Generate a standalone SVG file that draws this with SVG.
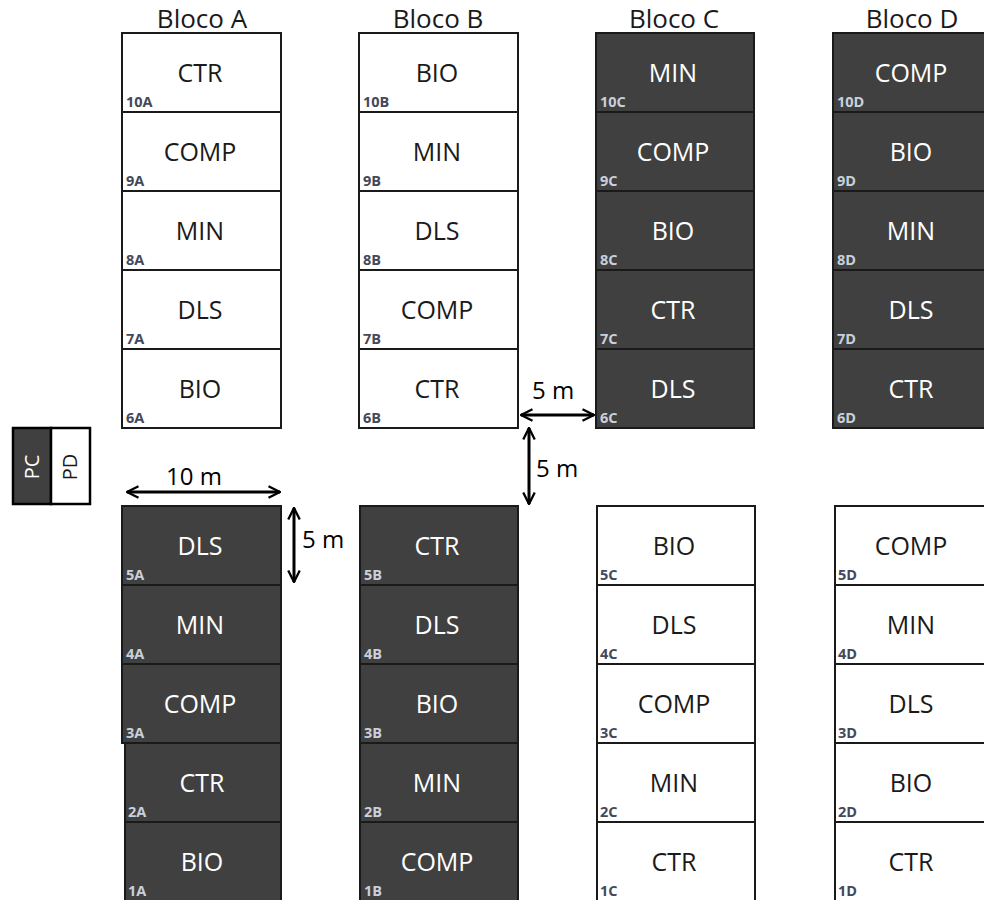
<svg xmlns="http://www.w3.org/2000/svg" width="984" height="900" viewBox="0 0 984 900">
<style>
.w{fill:#ffffff;stroke:#1a1a1a;stroke-width:2}
.d{fill:#404040;stroke:#1a1a1a;stroke-width:2}
.hd{font-family:"Open Sans","Liberation Sans",sans-serif;font-size:26px;fill:#1a1a1a;text-anchor:middle}
.tw{font-family:"Open Sans","Liberation Sans",sans-serif;font-size:25px;fill:#1a1a1a;text-anchor:middle}
.td{font-family:"Open Sans","Liberation Sans",sans-serif;font-size:25px;fill:#ffffff;text-anchor:middle}
.lw{font-family:"Open Sans","Liberation Sans",sans-serif;font-size:14.5px;font-weight:bold;fill:#45485a}
.ld{font-family:"Open Sans","Liberation Sans",sans-serif;font-size:14.5px;font-weight:bold;fill:#c9d0dc}
.dim{font-family:"Open Sans","Liberation Sans",sans-serif;font-size:24px;fill:#000}
.ar{stroke:#000;stroke-width:3;fill:none}
</style>
<defs>
<marker id="ah" viewBox="0 0 12 12" refX="11" refY="6" markerWidth="4.6" markerHeight="4.6" orient="auto-start-reverse" markerUnits="strokeWidth">
<path d="M1,1 L11,6 L1,11" fill="none" stroke="#000" stroke-width="2"/>
</marker>
</defs>

<g id="headers">
<text class="hd" x="202" y="28">Bloco A</text>
<text class="hd" x="438" y="28">Bloco B</text>
<text class="hd" x="674" y="28">Bloco C</text>
<text class="hd" x="912" y="28">Bloco D</text>
</g>

<g id="legend">
<rect x="13" y="428" width="38" height="76" fill="#404040" stroke="#000" stroke-width="2.5"/>
<rect x="51" y="428" width="39" height="76" fill="#ffffff" stroke="#000" stroke-width="2.5"/>
<text class="td" style="font-size:20px" transform="translate(39,467) rotate(-90)">PC</text>
<text class="tw" style="font-size:20px" transform="translate(77,467) rotate(-90)">PD</text>
</g>

<!-- Bloco A top -->
<g id="c10A"><rect class="w" x="122" y="33" width="159" height="79"/><text class="tw" x="200" y="82">CTR</text><text class="lw" x="126" y="107">10A</text></g>
<g id="c9A"><rect class="w" x="122" y="112" width="159" height="79"/><text class="tw" x="200" y="161">COMP</text><text class="lw" x="126" y="186">9A</text></g>
<g id="c8A"><rect class="w" x="122" y="191" width="159" height="79"/><text class="tw" x="200" y="240">MIN</text><text class="lw" x="126" y="265">8A</text></g>
<g id="c7A"><rect class="w" x="122" y="270" width="159" height="79"/><text class="tw" x="200" y="319">DLS</text><text class="lw" x="126" y="344">7A</text></g>
<g id="c6A"><rect class="w" x="122" y="349" width="159" height="79"/><text class="tw" x="200" y="398">BIO</text><text class="lw" x="126" y="423">6A</text></g>

<!-- Bloco B top -->
<g id="c10B"><rect class="w" x="359" y="33" width="159" height="79"/><text class="tw" x="437" y="82">BIO</text><text class="lw" x="363" y="107">10B</text></g>
<g id="c9B"><rect class="w" x="359" y="112" width="159" height="79"/><text class="tw" x="437" y="161">MIN</text><text class="lw" x="363" y="186">9B</text></g>
<g id="c8B"><rect class="w" x="359" y="191" width="159" height="79"/><text class="tw" x="437" y="240">DLS</text><text class="lw" x="363" y="265">8B</text></g>
<g id="c7B"><rect class="w" x="359" y="270" width="159" height="79"/><text class="tw" x="437" y="319">COMP</text><text class="lw" x="363" y="344">7B</text></g>
<g id="c6B"><rect class="w" x="359" y="349" width="159" height="79"/><text class="tw" x="437" y="398">CTR</text><text class="lw" x="363" y="423">6B</text></g>

<!-- Bloco C top -->
<g id="c10C"><rect class="d" x="596" y="33" width="158" height="79"/><text class="td" x="673" y="82">MIN</text><text class="ld" x="600" y="107">10C</text></g>
<g id="c9C"><rect class="d" x="596" y="112" width="158" height="79"/><text class="td" x="673" y="161">COMP</text><text class="ld" x="600" y="186">9C</text></g>
<g id="c8C"><rect class="d" x="596" y="191" width="158" height="79"/><text class="td" x="673" y="240">BIO</text><text class="ld" x="600" y="265">8C</text></g>
<g id="c7C"><rect class="d" x="596" y="270" width="158" height="79"/><text class="td" x="673" y="319">CTR</text><text class="ld" x="600" y="344">7C</text></g>
<g id="c6C"><rect class="d" x="596" y="349" width="158" height="79"/><text class="td" x="673" y="398">DLS</text><text class="ld" x="600" y="423">6C</text></g>

<!-- Bloco D top -->
<g id="c10D"><rect class="d" x="833" y="33" width="159" height="79"/><text class="td" x="911" y="82">COMP</text><text class="ld" x="837" y="107">10D</text></g>
<g id="c9D"><rect class="d" x="833" y="112" width="159" height="79"/><text class="td" x="911" y="161">BIO</text><text class="ld" x="837" y="186">9D</text></g>
<g id="c8D"><rect class="d" x="833" y="191" width="159" height="79"/><text class="td" x="911" y="240">MIN</text><text class="ld" x="837" y="265">8D</text></g>
<g id="c7D"><rect class="d" x="833" y="270" width="159" height="79"/><text class="td" x="911" y="319">DLS</text><text class="ld" x="837" y="344">7D</text></g>
<g id="c6D"><rect class="d" x="833" y="349" width="159" height="79"/><text class="td" x="911" y="398">CTR</text><text class="ld" x="837" y="423">6D</text></g>

<!-- Bloco A bottom -->
<g id="c5A"><rect class="d" x="122" y="506" width="159" height="79"/><text class="td" x="200" y="555">DLS</text><text class="ld" x="126" y="580">5A</text></g>
<g id="c4A"><rect class="d" x="122" y="585" width="159" height="79"/><text class="td" x="200" y="634">MIN</text><text class="ld" x="126" y="659">4A</text></g>
<g id="c3A"><rect class="d" x="122" y="664" width="159" height="79"/><text class="td" x="200" y="713">COMP</text><text class="ld" x="126" y="738">3A</text></g>
<g id="c2A"><rect class="d" x="125" y="743" width="156" height="79"/><text class="td" x="202" y="792">CTR</text><text class="ld" x="128" y="817">2A</text></g>
<g id="c1A"><rect class="d" x="125" y="822" width="156" height="79"/><text class="td" x="202" y="871">BIO</text><text class="ld" x="128" y="896">1A</text></g>

<!-- Bloco B bottom -->
<g id="c5B"><rect class="d" x="360" y="506" width="158" height="79"/><text class="td" x="437" y="555">CTR</text><text class="ld" x="364" y="580">5B</text></g>
<g id="c4B"><rect class="d" x="360" y="585" width="158" height="79"/><text class="td" x="437" y="634">DLS</text><text class="ld" x="364" y="659">4B</text></g>
<g id="c3B"><rect class="d" x="360" y="664" width="158" height="79"/><text class="td" x="437" y="713">BIO</text><text class="ld" x="364" y="738">3B</text></g>
<g id="c2B"><rect class="d" x="360" y="743" width="158" height="79"/><text class="td" x="437" y="792">MIN</text><text class="ld" x="364" y="817">2B</text></g>
<g id="c1B"><rect class="d" x="360" y="822" width="158" height="79"/><text class="td" x="437" y="871">COMP</text><text class="ld" x="364" y="896">1B</text></g>

<!-- Bloco C bottom -->
<g id="c5C"><rect class="w" x="597" y="506" width="158" height="79"/><text class="tw" x="674" y="555">BIO</text><text class="lw" x="600" y="580">5C</text></g>
<g id="c4C"><rect class="w" x="597" y="585" width="158" height="79"/><text class="tw" x="674" y="634">DLS</text><text class="lw" x="600" y="659">4C</text></g>
<g id="c3C"><rect class="w" x="597" y="664" width="158" height="79"/><text class="tw" x="674" y="713">COMP</text><text class="lw" x="600" y="738">3C</text></g>
<g id="c2C"><rect class="w" x="597" y="743" width="158" height="79"/><text class="tw" x="674" y="792">MIN</text><text class="lw" x="600" y="817">2C</text></g>
<g id="c1C"><rect class="w" x="597" y="822" width="158" height="79"/><text class="tw" x="674" y="871">CTR</text><text class="lw" x="600" y="896">1C</text></g>

<!-- Bloco D bottom -->
<g id="c5D"><rect class="w" x="835" y="506" width="159" height="79"/><text class="tw" x="911" y="555">COMP</text><text class="lw" x="838" y="580">5D</text></g>
<g id="c4D"><rect class="w" x="835" y="585" width="159" height="79"/><text class="tw" x="911" y="634">MIN</text><text class="lw" x="838" y="659">4D</text></g>
<g id="c3D"><rect class="w" x="835" y="664" width="159" height="79"/><text class="tw" x="911" y="713">DLS</text><text class="lw" x="838" y="738">3D</text></g>
<g id="c2D"><rect class="w" x="835" y="743" width="159" height="79"/><text class="tw" x="911" y="792">BIO</text><text class="lw" x="838" y="817">2D</text></g>
<g id="c1D"><rect class="w" x="835" y="822" width="159" height="79"/><text class="tw" x="911" y="871">CTR</text><text class="lw" x="838" y="896">1D</text></g>

<g id="connectors">
<line class="ar" x1="127" y1="492" x2="280" y2="492" marker-start="url(#ah)" marker-end="url(#ah)"/>
<line class="ar" x1="294" y1="508" x2="294" y2="582" marker-start="url(#ah)" marker-end="url(#ah)"/>
<line class="ar" x1="521" y1="415" x2="594" y2="415" marker-start="url(#ah)" marker-end="url(#ah)"/>
<line class="ar" x1="529" y1="428" x2="529" y2="504" marker-start="url(#ah)" marker-end="url(#ah)"/>
<text class="dim" x="166" y="485">10 m</text>
<text class="dim" x="302" y="548">5 m</text>
<text class="dim" x="532" y="399">5 m</text>
<text class="dim" x="536" y="477">5 m</text>
</g>
</svg>
